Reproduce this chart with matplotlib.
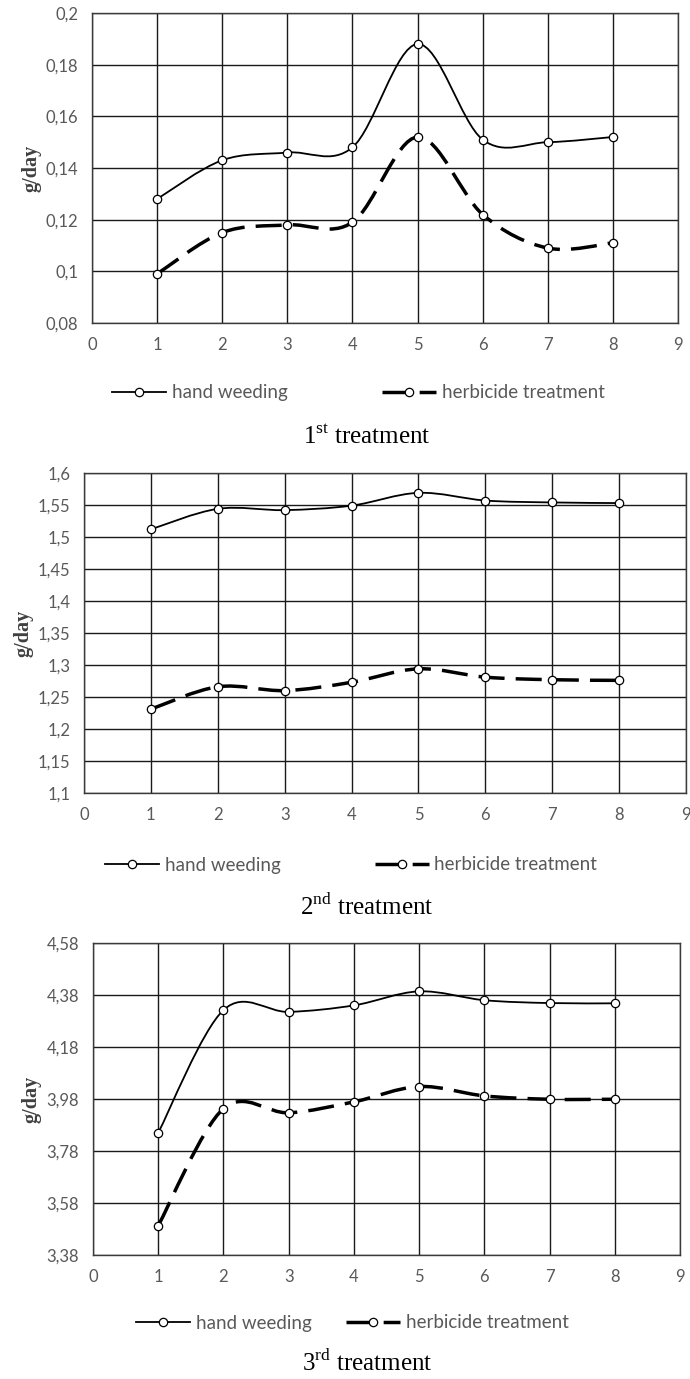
import numpy as np
import matplotlib
matplotlib.use("Agg")
import matplotlib.pyplot as plt
from matplotlib.path import Path
from matplotlib.patches import PathPatch
from matplotlib.lines import Line2D
from matplotlib.ticker import FuncFormatter

# data
days = [1, 2, 3, 4, 5, 6, 7, 8]
xticks = [0, 1, 2, 3, 4, 5, 6, 7, 8, 9]

hand_1 = [0.128, 0.143, 0.146, 0.148, 0.188, 0.151, 0.150, 0.152]
herb_1 = [0.099, 0.115, 0.118, 0.119, 0.152, 0.122, 0.109, 0.111]
yticks_1 = [0.08, 0.10, 0.12, 0.14, 0.16, 0.18, 0.20]

hand_2 = [1.512, 1.544, 1.542, 1.549, 1.569, 1.557, 1.554, 1.553]
herb_2 = [1.231, 1.266, 1.260, 1.273, 1.294, 1.281, 1.277, 1.276]
yticks_2 = [1.10, 1.15, 1.20, 1.25, 1.30, 1.35, 1.40, 1.45, 1.50, 1.55, 1.60]

hand_3 = [3.850, 4.322, 4.315, 4.340, 4.394, 4.360, 4.349, 4.348]
herb_3 = [3.493, 3.943, 3.927, 3.969, 4.028, 3.992, 3.979, 3.979]
yticks_3 = [3.38, 3.58, 3.78, 3.98, 4.18, 4.38, 4.58]

titles = ["1$^{\\rm st}$ treatment", "2$^{\\rm nd}$ treatment", "3$^{\\rm rd}$ treatment"]
series_names = ["hand weeding", "herbicide treatment"]

plt.rcParams["mathtext.fontset"] = "custom"
plt.rcParams["mathtext.rm"] = "Liberation Serif"

W, H = 690, 1379
fig = plt.figure(figsize=(W / 100, H / 100), dpi=100)
fig.patch.set_facecolor("white")

GRAY = "#595959"
DASH = (0, (7.5, 3.2))


def smooth_path(xs, ys):
    # excel-like smoothed line: catmull-rom segments as cubic beziers
    pts = np.column_stack([xs, ys]).astype(float)
    ext = np.vstack([pts[0], pts, pts[-1]])
    verts = [pts[0]]
    codes = [Path.MOVETO]
    for i in range(len(pts) - 1):
        p0, p1, p2, p3 = ext[i], ext[i + 1], ext[i + 2], ext[i + 3]
        verts += [p1 + (p2 - p0) / 6, p2 - (p3 - p1) / 6, p2]
        codes += [Path.CURVE4] * 3
    return Path(verts, codes)


def fmt(v, pos):
    return ("%g" % round(v, 4)).replace(".", ",")


# (left, right, top, bottom, ylabel x, legend x, legend y, col spacing, title y) in px
layout = [
    (92, 678, 13, 323, 31, 112, 393, 5.0, 437),
    (84, 686, 473, 793, 24, 105, 865, 5.0, 907),
    (93, 680, 943, 1255, 31, 136, 1323, 1.8, 1363),
]
panels = [(hand_1, herb_1, yticks_1), (hand_2, herb_2, yticks_2), (hand_3, herb_3, yticks_3)]

for (hand, herb, yt), (l, r, t, b, yx, lx, ly, cs, ty), title in zip(panels, layout, titles):
    ax = fig.add_axes([l / W, 1 - b / H, (r - l) / W, (b - t) / H])
    ax.set_xlim(0, 9)
    ax.set_ylim(yt[0], yt[-1])
    ax.set_xticks(xticks)
    ax.set_yticks(yt)
    ax.yaxis.set_major_formatter(FuncFormatter(fmt))
    ax.grid(True, color="#1a1a1a", linewidth=1.0)
    ax.set_axisbelow(True)
    for s in ax.spines.values():
        s.set_color("#3a3a3a")
        s.set_linewidth(1.0)
    ax.tick_params(length=0, labelsize=12, labelcolor=GRAY)
    ax.tick_params(axis="y", pad=10)
    ax.tick_params(axis="x", pad=10)
    for lab in ax.get_xticklabels() + ax.get_yticklabels():
        lab.set_fontfamily("Lato")

    ax.add_patch(PathPatch(smooth_path(days, hand), fill=False, edgecolor="black",
                           linewidth=1.3, zorder=3))
    ax.add_patch(PathPatch(smooth_path(days, herb), fill=False, edgecolor="black",
                           linewidth=2.5, linestyle=DASH, capstyle="butt", zorder=3))
    ax.plot(days, hand, "o", ms=6, mfc="white", mec="black", mew=0.9, zorder=4)
    ax.plot(days, herb, "o", ms=6, mfc="white", mec="black", mew=0.9, zorder=4)

    fig.text(yx / W, 1 - (t + b) / 2 / H, "g/day", rotation=90, ha="center", va="center",
             family="Liberation Serif", fontsize=14.5, fontweight="bold", color="#404040")

    handles = [
        Line2D([], [], color="black", lw=1.3, marker="o", ms=6, mfc="white", mec="black", mew=0.9),
        Line2D([], [], color="black", lw=2.5, ls=DASH, marker="o", ms=6, mfc="white",
               mec="black", mew=0.9),
    ]
    fig.legend(handles, series_names, loc="center left", bbox_to_anchor=(lx / W, 1 - ly / H),
               ncol=2, frameon=False, borderpad=0, borderaxespad=0, handlelength=2.9,
               handletextpad=0.3, columnspacing=cs, numpoints=1,
               prop={"family": "Lato", "size": 13.5}, labelcolor=GRAY)

    fig.text(367 / W, 1 - ty / H, title, ha="center", va="center",
             family="Liberation Serif", fontsize=18, color="black")

fig.savefig("out.png", dpi=100)
